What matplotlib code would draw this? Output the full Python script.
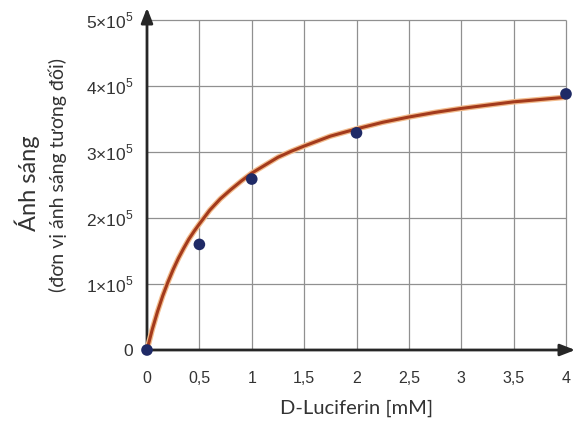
import numpy as np
import matplotlib
matplotlib.use("Agg")
import matplotlib.pyplot as plt

# điểm đo
nong_do = [0, 0.5, 1, 2, 4]
anh_sang = [0, 1.6e5, 2.59e5, 3.29e5, 3.88e5]

# đường cong khớp
cong_x = [0, 0.05, 0.1, 0.15, 0.2, 0.25, 0.3, 0.35, 0.4, 0.45, 0.5, 0.6, 0.7, 0.8, 0.9, 1,
          1.125, 1.25, 1.375, 1.5, 1.75, 2, 2.25, 2.5, 2.75, 3, 3.5, 4]
cong_y = [0, 0.31e5, 0.58e5, 0.82e5, 1.03e5, 1.22e5, 1.39e5, 1.54e5, 1.68e5, 1.80e5,
          1.91e5, 2.12e5, 2.29e5, 2.43e5, 2.56e5, 2.68e5, 2.80e5, 2.92e5, 3.01e5,
          3.09e5, 3.24e5, 3.35e5, 3.45e5, 3.53e5, 3.60e5, 3.66e5, 3.76e5, 3.83e5]

x_ticks = [0, 0.5, 1, 1.5, 2, 2.5, 3, 3.5, 4]
x_labels = ["0", "0,5", "1", "1,5", "2", "2,5", "3", "3,5", "4"]
y_ticks = [0, 1e5, 2e5, 3e5, 4e5, 5e5]
y_labels = ["0", "1×10$^5$", "2×10$^5$", "3×10$^5$", "4×10$^5$", "5×10$^5$"]

plt.rcParams["mathtext.fontset"] = "custom"
plt.rcParams["mathtext.rm"] = "Liberation Sans"
plt.rcParams["font.family"] = ["Liberation Sans", "DejaVu Sans"]

fig = plt.figure(figsize=(5.79, 4.23), dpi=100)
W, H = 579, 423
ax = fig.add_axes([147 / W, (H - 350) / H, (578 - 147) / W, (350 - 5) / H])
xmax = 4 * (578 - 147) / (566 - 147)
ymax = 5e5 * (350 - 5) / (350 - 20)
ax.set_xlim(0, xmax)
ax.set_ylim(0, ymax)
for s in ax.spines.values():
    s.set_visible(False)

# lưới
ax.vlines(x_ticks[1:], 0, 5e5, color="#909090", lw=0.9, zorder=1)
ax.hlines(y_ticks[1:], 0, 4, color="#909090", lw=0.9, zorder=1)

# trục có mũi tên
ax.annotate("", xy=(1, 0), xytext=(0, 0), xycoords="axes fraction",
            arrowprops=dict(arrowstyle="-|>,head_length=0.9,head_width=0.35", color="#262626", lw=2), zorder=3)
ax.annotate("", xy=(0, 1), xytext=(0, 0), xycoords="axes fraction",
            arrowprops=dict(arrowstyle="-|>,head_length=0.9,head_width=0.35", color="#262626", lw=2), zorder=3)

ax.plot(cong_x, cong_y, color="#f2bb8c", lw=4.0, solid_capstyle="round", zorder=4, clip_on=False)
ax.plot(cong_x, cong_y, color="#a33a1c", lw=2.2, solid_capstyle="round", zorder=5, clip_on=False)
ax.scatter(nong_do, anh_sang, s=70, color="#1f2a66", zorder=6, clip_on=False, edgecolors="none")

ax.set_xticks(x_ticks)
ax.set_xticklabels(x_labels, fontsize=11.5, color="#333333")
ax.set_yticks(y_ticks)
ax.set_yticklabels(y_labels, fontsize=12.5, color="#333333")
ax.tick_params(axis="x", length=0, pad=15)
ax.tick_params(axis="y", length=0, pad=10)

fig.text(357 / W, 1 - 408 / H, "D-Luciferin [mM]", fontsize=14.5, color="#333333",
         ha="center", va="center", family=["Lato", "DejaVu Sans"])
fig.text(27 / W, 1 - 183 / H, "Ánh sáng", fontsize=17, color="#333333", rotation=90,
         ha="center", va="center", family=["Lato", "DejaVu Sans"])
fig.text(58 / W, 1 - 175 / H, "(đơn vị ánh sáng tương đối)", fontsize=14, color="#333333",
         rotation=90, ha="center", va="center", family=["Lato", "DejaVu Sans"])

fig.savefig("out.png", dpi=100)
